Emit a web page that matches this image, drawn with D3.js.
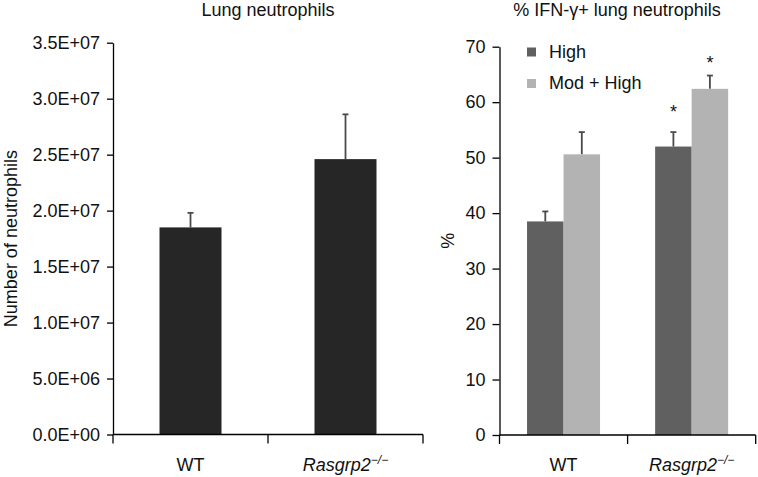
<!DOCTYPE html>
<html><head><meta charset="utf-8">
<script src="https://cdn.jsdelivr.net/npm/d3@7"></script>
<style>body{margin:0;background:#fff}svg text{font-family:"Liberation Sans",Arial,sans-serif;fill:#111}</style>
</head><body>
<svg id="c" width="758" height="477"></svg>
<script>
// ---- data ----
const categories = ["WT", "Rasgrp2"];
const neutroValues = [1.85e7, 2.46e7];
const neutroErrors = [0.13e7, 0.40e7];
const leftTicks = [0, 5e6, 1e7, 1.5e7, 2e7, 2.5e7, 3e7, 3.5e7];
const leftTickLabels = ["0.0E+00","5.0E+06","1.0E+07","1.5E+07","2.0E+07","2.5E+07","3.0E+07","3.5E+07"];
const seriesNames = ["High", "Mod + High"];
const highValues = [38.5, 52.0];
const highErrors = [1.8, 2.6];
const modValues = [50.6, 62.4];
const modErrors = [4.0, 2.4];
const rightTicks = [0, 10, 20, 30, 40, 50, 60, 70];
const stars = [{cat: "Rasgrp2", series: "High"}, {cat: "Rasgrp2", series: "Mod + High"}];

const svg = d3.select("#c");
const font = 18;
const errColor = "#4a4a4a";

function catLabel(g, x, y, c) {
  const t = g.append("text").attr("x", x).attr("y", y).attr("text-anchor", "middle").attr("font-size", font);
  if (c === "Rasgrp2") {
    t.append("tspan").attr("font-style", "italic").text("Rasgrp2");
    t.append("tspan").attr("font-style", "italic").attr("font-size", 12).attr("dy", -7).text("\u2212/\u2212");
  } else t.text(c);
}

// ---- left chart ----
{
  const x0 = 113, x1 = 423, yTop = 42.7, yBot = 434.5;
  const x = d3.scaleBand().domain(categories).range([x0, x1]).paddingInner(0.6).paddingOuter(0.3);
  const y = d3.scaleLinear().domain([0, 3.5e7]).range([yBot, yTop]);
  const g = svg.append("g");
  const data = categories.map((c, i) => ({c, v: neutroValues[i], e: neutroErrors[i]}));
  // error bars
  data.forEach(d => {
    const cx = x(d.c) + x.bandwidth() / 2;
    g.append("line").attr("x1", cx).attr("x2", cx).attr("y1", y(d.v)).attr("y2", y(d.v + d.e)).attr("stroke", errColor).attr("stroke-width", 1.8);
    g.append("line").attr("x1", cx - 3).attr("x2", cx + 3).attr("y1", y(d.v + d.e)).attr("y2", y(d.v + d.e)).attr("stroke", errColor).attr("stroke-width", 1.8);
  });
  g.selectAll("rect.b").data(data).join("rect")
    .attr("x", d => x(d.c)).attr("width", x.bandwidth())
    .attr("y", d => y(d.v)).attr("height", d => y(0) - y(d.v)).attr("fill", "#262626");
  const ya = g.append("g").attr("transform", `translate(${x0},0)`)
    .call(d3.axisLeft(y).tickValues(leftTicks).tickFormat((d, i) => leftTickLabels[i]).tickSize(6).tickPadding(7).tickSizeOuter(0));
  ya.selectAll("text").attr("font-size", font).attr("font-family", null).attr("fill", "#111");
  ya.select(".domain").attr("stroke-width", 1.3);
  ya.selectAll(".tick line").attr("stroke-width", 1.3);
  // x axis
  const xa = g.append("g");
  xa.append("line").attr("x1", x0).attr("x2", x1).attr("y1", yBot).attr("y2", yBot).attr("stroke", "#000").attr("stroke-width", 1.3);
  const step = x.step();
  [x0, x0 + (x1 - x0) / 2, x1].forEach(t => xa.append("line").attr("x1", t).attr("x2", t).attr("y1", yBot).attr("y2", yBot + 9).attr("stroke", "#000").attr("stroke-width", 1.3));
  categories.forEach(c => catLabel(g, x(c) + x.bandwidth() / 2, 471, c));
  g.append("text").attr("x", (x0 + x1) / 2).attr("y", 16).attr("text-anchor", "middle").attr("font-size", font).text("Lung neutrophils");
  g.append("text").attr("transform", `translate(17,${(yTop + yBot) / 2}) rotate(-90)`).attr("text-anchor", "middle").attr("font-size", font).text("Number of neutrophils");
}

// ---- right chart ----
{
  const x0 = 499.5, x1 = 755.7, yTop = 46.7, yBot = 435;
  const x = d3.scaleBand().domain(categories).range([x0, x1]).paddingInner(0.43).paddingOuter(0.215);
  const xs = d3.scaleBand().domain(seriesNames).range([0, x.bandwidth()]);
  const y = d3.scaleLinear().domain([0, 70]).range([yBot, yTop]);
  const color = d3.scaleOrdinal().domain(seriesNames).range(["#606060", "#b3b3b3"]);
  const g = svg.append("g");
  const data = [];
  categories.forEach((c, i) => {
    data.push({c, s: seriesNames[0], v: highValues[i], e: highErrors[i]});
    data.push({c, s: seriesNames[1], v: modValues[i], e: modErrors[i]});
  });
  data.forEach(d => {
    const cx = x(d.c) + xs(d.s) + xs.bandwidth() / 2;
    g.append("line").attr("x1", cx).attr("x2", cx).attr("y1", y(d.v)).attr("y2", y(d.v + d.e)).attr("stroke", errColor).attr("stroke-width", 1.8);
    g.append("line").attr("x1", cx - 3).attr("x2", cx + 3).attr("y1", y(d.v + d.e)).attr("y2", y(d.v + d.e)).attr("stroke", errColor).attr("stroke-width", 1.8);
  });
  g.selectAll("rect.b").data(data).join("rect")
    .attr("x", d => x(d.c) + xs(d.s)).attr("width", xs.bandwidth())
    .attr("y", d => y(d.v)).attr("height", d => y(0) - y(d.v)).attr("fill", d => color(d.s));
  // stars
  const starOffsets = [14, 7];
  stars.forEach((s, i) => {
    const d = data.find(e => e.c === s.cat && e.s === s.series);
    const cx = x(d.c) + xs(d.s) + xs.bandwidth() / 2;
    g.append("text").attr("x", cx).attr("y", y(d.v + d.e) - starOffsets[i]).attr("text-anchor", "middle").attr("font-size", font).text("*");
  });
  const ya = g.append("g").attr("transform", `translate(${x0},0)`)
    .call(d3.axisLeft(y).tickValues(rightTicks).tickSize(7).tickPadding(7).tickSizeOuter(0));
  ya.selectAll("text").attr("font-size", font).attr("font-family", null).attr("fill", "#111");
  ya.select(".domain").attr("stroke-width", 1.3);
  ya.selectAll(".tick line").attr("stroke-width", 1.3);
  const xa = g.append("g");
  xa.append("line").attr("x1", x0).attr("x2", x1).attr("y1", yBot).attr("y2", yBot).attr("stroke", "#000").attr("stroke-width", 1.3);
  [x0, x0 + (x1 - x0) / 2, x1].forEach(t => xa.append("line").attr("x1", t).attr("x2", t).attr("y1", yBot).attr("y2", yBot + 9).attr("stroke", "#000").attr("stroke-width", 1.3));
  categories.forEach(c => catLabel(g, x(c) + x.bandwidth() / 2, 471, c));
  g.append("text").attr("x", 617).attr("y", 16).attr("text-anchor", "middle").attr("font-size", font).text("% IFN-\u03b3+ lung neutrophils");
  g.append("text").attr("transform", `translate(454,${(yTop + yBot) / 2}) rotate(-90)`).attr("text-anchor", "middle").attr("font-size", font).text("%");
  // legend
  const lg = g.append("g").attr("transform", "translate(527,47.5)");
  seriesNames.forEach((s, i) => {
    lg.append("rect").attr("x", 0).attr("y", i * 31.5).attr("width", 9).attr("height", 9).attr("fill", color(s));
    lg.append("text").attr("x", 22).attr("y", i * 31.5 + 10).attr("font-size", font).text(s);
  });
}
</script>
</body></html>
